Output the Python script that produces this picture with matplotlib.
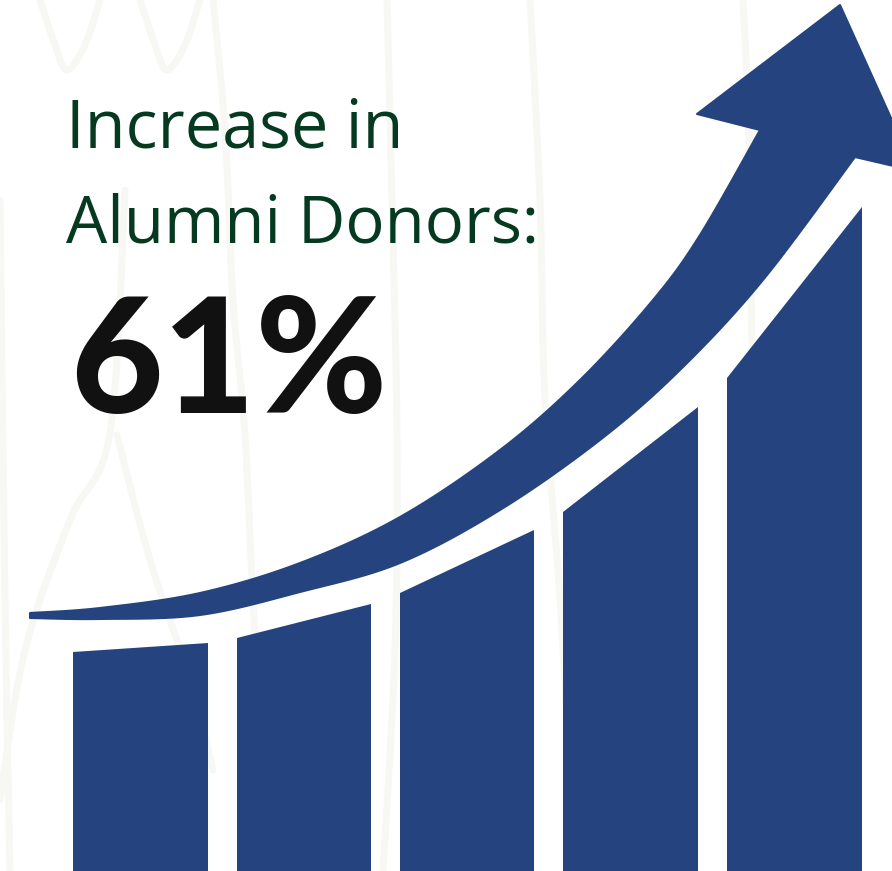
import numpy as np
import matplotlib
matplotlib.use('Agg')
import matplotlib.pyplot as plt
from matplotlib.patches import Polygon

W, H = 892, 871
BLUE = '#25447f'
GREEN = '#063a20'
FAINT = '#f7f7f4'

# bar values (height of the slanted top above the bottom edge, left side / right side)
bar_left = [73, 237, 400, 563, 727]
bar_right = [208, 371, 534, 698, 862]
h_left = [219, 233, 278, 359, 493]
h_right = [228, 267, 341, 464, 664]

title_lines = ['Increase in', 'Alumni Donors:']
big_value = '61%'

# outline of the growth arrow (pixel coords, y down)
arrow_top_x = [30, 100, 200, 300, 400, 500, 580, 653, 700, 760]
arrow_top_y = [613, 608, 593, 563, 517, 450, 380, 300, 235, 130]
arrow_bot_x = [30, 100, 200, 300, 400, 500, 600, 680, 763, 855]
arrow_bot_y = [618, 619, 615, 592, 563, 510, 440, 370, 280, 157]
head_x = [760, 697, 840, 915, 855]
head_y = [130, 114, 5, 171, 157]


def smooth(xs, ys, n=12):
    # catmull-rom through the outline points, just to get rid of kinks
    p = np.column_stack([xs, ys]).astype(float)
    p = np.vstack([p[0], p, p[-1]])
    out = []
    for i in range(1, len(p) - 2):
        p0, p1, p2, p3 = p[i - 1], p[i], p[i + 1], p[i + 2]
        for t in np.linspace(0, 1, n, endpoint=False):
            out.append(0.5 * ((2 * p1) + (-p0 + p2) * t +
                              (2 * p0 - 5 * p1 + 4 * p2 - p3) * t ** 2 +
                              (-p0 + 3 * p1 - 3 * p2 + p3) * t ** 3))
    out.append(p[-2])
    return np.array(out)


fig = plt.figure(figsize=(W / 100, H / 100), dpi=100)
ax = fig.add_axes([0, 0, 1, 1])
ax.set_xlim(0, W)
ax.set_ylim(H, 0)
ax.axis('off')
fig.patch.set_facecolor('white')

# faint scribbles in the background
scribbles = [
    ([40, 55, 67, 85, 100], [0, 45, 70, 45, 0]),
    ([140, 155, 167, 185, 200], [0, 45, 70, 45, 0]),
    ([0, 25, 70, 110, 125], [800, 650, 520, 433, 190]),
    ([117, 150, 190, 213], [435, 560, 680, 770]),
    ([213, 225, 233, 245, 253, 262, 277], [0, 130, 300, 435, 600, 750, 871]),
    ([387, 392, 397, 395, 383], [0, 200, 435, 650, 871]),
    ([0, 5, 10], [200, 600, 871]),
    ([530, 540, 545, 560, 575], [0, 200, 400, 600, 871]),
    ([743, 750, 757], [0, 200, 871]),
]
for sx, sy in scribbles:
    c = smooth(sx, sy)
    ax.plot(c[:, 0], c[:, 1], color=FAINT, lw=5, solid_capstyle='round', zorder=0)

# bars with slanted tops
for xl, xr, hl, hr in zip(bar_left, bar_right, h_left, h_right):
    pts = [(xl, H), (xl, H - hl), (xr, H - hr), (xr, H)]
    ax.add_patch(Polygon(pts, closed=True, facecolor=BLUE, edgecolor='none', zorder=2))

# arrow
top = smooth(arrow_top_x, arrow_top_y)
bot = smooth(arrow_bot_x, arrow_bot_y)
head = np.column_stack([head_x, head_y])
outline = np.vstack([top, head[1:4], bot[::-1]])
ax.add_patch(Polygon(outline, closed=True, facecolor=BLUE, edgecolor=BLUE,
                     lw=1.5, joinstyle='round', zorder=3))

# text
ax.text(66, 148, title_lines[0], fontsize=48, color=GREEN, family='Open Sans',
        va='baseline', ha='left', zorder=4)
ax.text(66, 242, title_lines[1], fontsize=47, color=GREEN, family='Open Sans',
        va='baseline', ha='left', zorder=4)
ax.text(70, 413, big_value, fontsize=115, color='#111111', family='Lato',
        fontweight='black', va='baseline', ha='left', zorder=4)

fig.savefig('out.png', dpi=100, facecolor='white')
